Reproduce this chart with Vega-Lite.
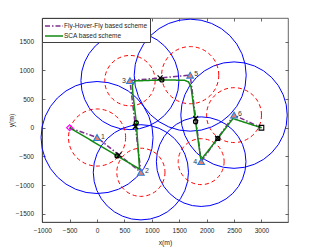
{
  "$schema": "https://vega.github.io/schema/vega-lite/v6.json",
  "width": 246,
  "height": 204,
  "autosize": {"type": "none"},
  "padding": {"left": 42, "top": 18, "right": 31, "bottom": 27},
  "background": "white",
  "config": {
    "font": "Liberation Sans",
    "view": {"stroke": "#404040", "strokeWidth": 0.8},
    "axis": {
      "grid": false,
      "domainColor": "#404040",
      "tickColor": "#404040",
      "labelColor": "#262626",
      "titleColor": "#262626",
      "labelFontSize": 6.5,
      "titleFontSize": 6.8,
      "titleFontWeight": "normal",
      "tickSize": -3,
      "domainWidth": 0.8,
      "tickWidth": 0.8,
      "format": "d"
    }
  },
  "datasets": {
    "nodes": [
      {"id": 1, "x": 0, "y": -170, "R": 1000, "r": 510},
      {"id": 2, "x": 800, "y": -775, "R": 850, "r": 430},
      {"id": 3, "x": 600, "y": 820, "R": 875, "r": 450},
      {"id": 4, "x": 1900, "y": -590, "R": 800, "r": 410},
      {"id": 5, "x": 1700, "y": 915, "R": 1000, "r": 510},
      {"id": 6, "x": 2500, "y": 220, "R": 950, "r": 490}
    ],
    "paths": [
      {"scheme": "Fly-Hover-Fly based scheme", "i": 0, "x": -500, "y": 0},
      {"scheme": "Fly-Hover-Fly based scheme", "i": 1, "x": 0, "y": -170},
      {"scheme": "Fly-Hover-Fly based scheme", "i": 2, "x": 800, "y": -775},
      {"scheme": "Fly-Hover-Fly based scheme", "i": 3, "x": 600, "y": 820},
      {"scheme": "Fly-Hover-Fly based scheme", "i": 4, "x": 1700, "y": 915},
      {"scheme": "Fly-Hover-Fly based scheme", "i": 5, "x": 1900, "y": -590},
      {"scheme": "Fly-Hover-Fly based scheme", "i": 6, "x": 2500, "y": 220},
      {"scheme": "Fly-Hover-Fly based scheme", "i": 7, "x": 3000, "y": 0},
      {"scheme": "SCA based scheme", "i": 0, "x": -500, "y": 0},
      {"scheme": "SCA based scheme", "i": 1, "x": 776, "y": -720},
      {"scheme": "SCA based scheme", "i": 2, "x": 715, "y": 105},
      {"scheme": "SCA based scheme", "i": 3, "x": 653, "y": 600},
      {"scheme": "SCA based scheme", "i": 4, "x": 645, "y": 740},
      {"scheme": "SCA based scheme", "i": 5, "x": 690, "y": 815},
      {"scheme": "SCA based scheme", "i": 6, "x": 1183, "y": 832},
      {"scheme": "SCA based scheme", "i": 7, "x": 1597, "y": 827},
      {"scheme": "SCA based scheme", "i": 8, "x": 1670, "y": 797},
      {"scheme": "SCA based scheme", "i": 9, "x": 1715, "y": 715},
      {"scheme": "SCA based scheme", "i": 10, "x": 1798, "y": 105},
      {"scheme": "SCA based scheme", "i": 11, "x": 1895, "y": -560},
      {"scheme": "SCA based scheme", "i": 12, "x": 2205, "y": -185},
      {"scheme": "SCA based scheme", "i": 13, "x": 2480, "y": 160},
      {"scheme": "SCA based scheme", "i": 14, "x": 3000, "y": 0}
    ],
    "xmarks": [
      {"x": 400, "y": -472},
      {"x": 700, "y": 22},
      {"x": 1150, "y": 868},
      {"x": 1800, "y": 162},
      {"x": 2200, "y": -185}
    ],
    "omarks": [
      {"x": 365, "y": -490},
      {"x": 715, "y": 87},
      {"x": 1183, "y": 832},
      {"x": 1798, "y": 105},
      {"x": 2205, "y": -185}
    ],
    "ends": [
      {"kind": "start", "x": -500, "y": 0},
      {"kind": "end", "x": 3000, "y": 0}
    ]
  },
  "layer": [
    {
      "data": {"name": "nodes"},
      "mark": {"type": "point", "shape": "circle", "filled": false, "stroke": "#0000ff", "strokeWidth": 1, "opacity": 1},
      "encoding": {
        "x": {"field": "x", "type": "quantitative", "scale": {"domain": [-1005, 3485], "nice": false, "zero": false},
              "axis": {"orient": "bottom", "values": [-1000, -500, 0, 500, 1000, 1500, 2000, 2500, 3000], "title": "x(m)", "labelPadding": 8, "titlePadding": 6, "labelFlush": false}},
        "y": {"field": "y", "type": "quantitative", "scale": {"domain": [-1640, 1910], "nice": false, "zero": false},
              "axis": {"orient": "left", "values": [-1500, -1000, -500, 0, 500, 1000, 1500], "title": "y(m)", "labelPadding": 11.5, "titlePadding": 0.5}},
        "size": {"field": "R", "type": "quantitative", "scale": {"type": "pow", "exponent": 2, "domain": [0, 1000], "range": [0, 12544]}, "legend": null}
      }
    },
    {
      "data": {"name": "nodes"},
      "mark": {"type": "point", "shape": "circle", "filled": false, "stroke": "#ff0000", "strokeWidth": 1, "strokeDash": [4, 3], "opacity": 1},
      "encoding": {
        "x": {"field": "x", "type": "quantitative", "scale": {"domain": [-1005, 3485], "nice": false, "zero": false}, "axis": null},
        "y": {"field": "y", "type": "quantitative", "scale": {"domain": [-1640, 1910], "nice": false, "zero": false}, "axis": null},
        "size": {"field": "r", "type": "quantitative", "scale": {"type": "pow", "exponent": 2, "domain": [0, 1000], "range": [0, 12544]}, "legend": null}
      }
    },
    {
      "data": {"name": "paths"},
      "mark": {"type": "line", "strokeWidth": 1.5},
      "encoding": {
        "x": {"field": "x", "type": "quantitative", "scale": {"domain": [-1005, 3485], "nice": false, "zero": false}, "axis": null},
        "y": {"field": "y", "type": "quantitative", "scale": {"domain": [-1640, 1910], "nice": false, "zero": false}, "axis": null},
        "order": {"field": "i", "type": "quantitative"},
        "color": {"field": "scheme", "type": "nominal",
                  "scale": {"domain": ["Fly-Hover-Fly based scheme", "SCA based scheme"], "range": ["#7E2F8E", "#138a13"]},
                  "legend": {"orient": "none", "legendX": 0, "legendY": 0, "title": null, "fillColor": "white", "strokeColor": "#404040", "padding": 2, "labelFontSize": 6.5, "labelColor": "#262626", "symbolType": "M-1,0H2.6", "symbolSize": 100, "symbolStrokeWidth": 1.5, "rowPadding": -1, "labelOffset": 8}},
        "strokeDash": {"field": "scheme", "type": "nominal",
                  "scale": {"domain": ["Fly-Hover-Fly based scheme", "SCA based scheme"], "range": [[5, 2, 1.5, 2], [1, 0]]},
                  "legend": {"orient": "none", "legendX": 0, "legendY": 0, "title": null, "fillColor": "white", "strokeColor": "#404040", "padding": 2, "labelFontSize": 6.5, "labelColor": "#262626", "symbolType": "M-1,0H2.6", "symbolSize": 100, "symbolStrokeWidth": 1.5, "rowPadding": -1, "labelOffset": 8}}
      }
    },
    {
      "data": {"name": "xmarks"},
      "mark": {"type": "point", "shape": "M-1,-1L1,1M1,-1L-1,1", "filled": false, "stroke": "#000000", "strokeWidth": 1.2, "size": 25, "opacity": 1},
      "encoding": {
        "x": {"field": "x", "type": "quantitative", "scale": {"domain": [-1005, 3485], "nice": false, "zero": false}, "axis": null},
        "y": {"field": "y", "type": "quantitative", "scale": {"domain": [-1640, 1910], "nice": false, "zero": false}, "axis": null}
      }
    },
    {
      "data": {"name": "omarks"},
      "mark": {"type": "point", "shape": "circle", "filled": false, "stroke": "#000000", "strokeWidth": 1.3, "size": 16, "opacity": 1},
      "encoding": {
        "x": {"field": "x", "type": "quantitative", "scale": {"domain": [-1005, 3485], "nice": false, "zero": false}, "axis": null},
        "y": {"field": "y", "type": "quantitative", "scale": {"domain": [-1640, 1910], "nice": false, "zero": false}, "axis": null}
      }
    },
    {
      "data": {"name": "nodes"},
      "mark": {"type": "point", "shape": "triangle-up", "filled": true, "fill": "#e8806a", "stroke": "#2b7fd6", "strokeWidth": 1.1, "size": 45, "opacity": 1},
      "encoding": {
        "x": {"field": "x", "type": "quantitative", "scale": {"domain": [-1005, 3485], "nice": false, "zero": false},
              "axis": {"orient": "top", "values": [-1000, -500, 0, 500, 1000, 1500, 2000, 2500, 3000], "labels": false, "title": null, "domain": false}},
        "y": {"field": "y", "type": "quantitative", "scale": {"domain": [-1640, 1910], "nice": false, "zero": false},
              "axis": {"orient": "right", "values": [-1500, -1000, -500, 0, 500, 1000, 1500], "labels": false, "title": null, "domain": false}}
      }
    },
    {
      "data": {"name": "ends"},
      "transform": [{"filter": "datum.kind == 'start'"}],
      "mark": {"type": "point", "shape": "diamond", "filled": false, "stroke": "#ff00ff", "strokeWidth": 1.2, "size": 36, "opacity": 1},
      "encoding": {
        "x": {"field": "x", "type": "quantitative", "scale": {"domain": [-1005, 3485], "nice": false, "zero": false}, "axis": null},
        "y": {"field": "y", "type": "quantitative", "scale": {"domain": [-1640, 1910], "nice": false, "zero": false}, "axis": null}
      }
    },
    {
      "data": {"name": "ends"},
      "transform": [{"filter": "datum.kind == 'end'"}],
      "mark": {"type": "point", "shape": "square", "filled": false, "stroke": "#000000", "strokeWidth": 1.1, "size": 22, "opacity": 1},
      "encoding": {
        "x": {"field": "x", "type": "quantitative", "scale": {"domain": [-1005, 3485], "nice": false, "zero": false}, "axis": null},
        "y": {"field": "y", "type": "quantitative", "scale": {"domain": [-1640, 1910], "nice": false, "zero": false}, "axis": null}
      }
    },
    {
      "data": {"name": "nodes"},
      "transform": [{"filter": "datum.id != 3 && datum.id != 4"}],
      "mark": {"type": "text", "align": "left", "baseline": "middle", "dx": 4, "dy": -1, "fontSize": 7, "color": "#333333"},
      "encoding": {
        "x": {"field": "x", "type": "quantitative", "scale": {"domain": [-1005, 3485], "nice": false, "zero": false}, "axis": null},
        "y": {"field": "y", "type": "quantitative", "scale": {"domain": [-1640, 1910], "nice": false, "zero": false}, "axis": null},
        "text": {"field": "id", "type": "nominal"}
      }
    },
    {
      "data": {"name": "nodes"},
      "transform": [{"filter": "datum.id == 3 || datum.id == 4"}],
      "mark": {"type": "text", "align": "right", "baseline": "middle", "dx": -4, "dy": 0, "fontSize": 7, "color": "#333333"},
      "encoding": {
        "x": {"field": "x", "type": "quantitative", "scale": {"domain": [-1005, 3485], "nice": false, "zero": false}, "axis": null},
        "y": {"field": "y", "type": "quantitative", "scale": {"domain": [-1640, 1910], "nice": false, "zero": false}, "axis": null},
        "text": {"field": "id", "type": "nominal"}
      }
    }
  ],
  "resolve": {"axis": {"x": "independent", "y": "independent"}}
}
